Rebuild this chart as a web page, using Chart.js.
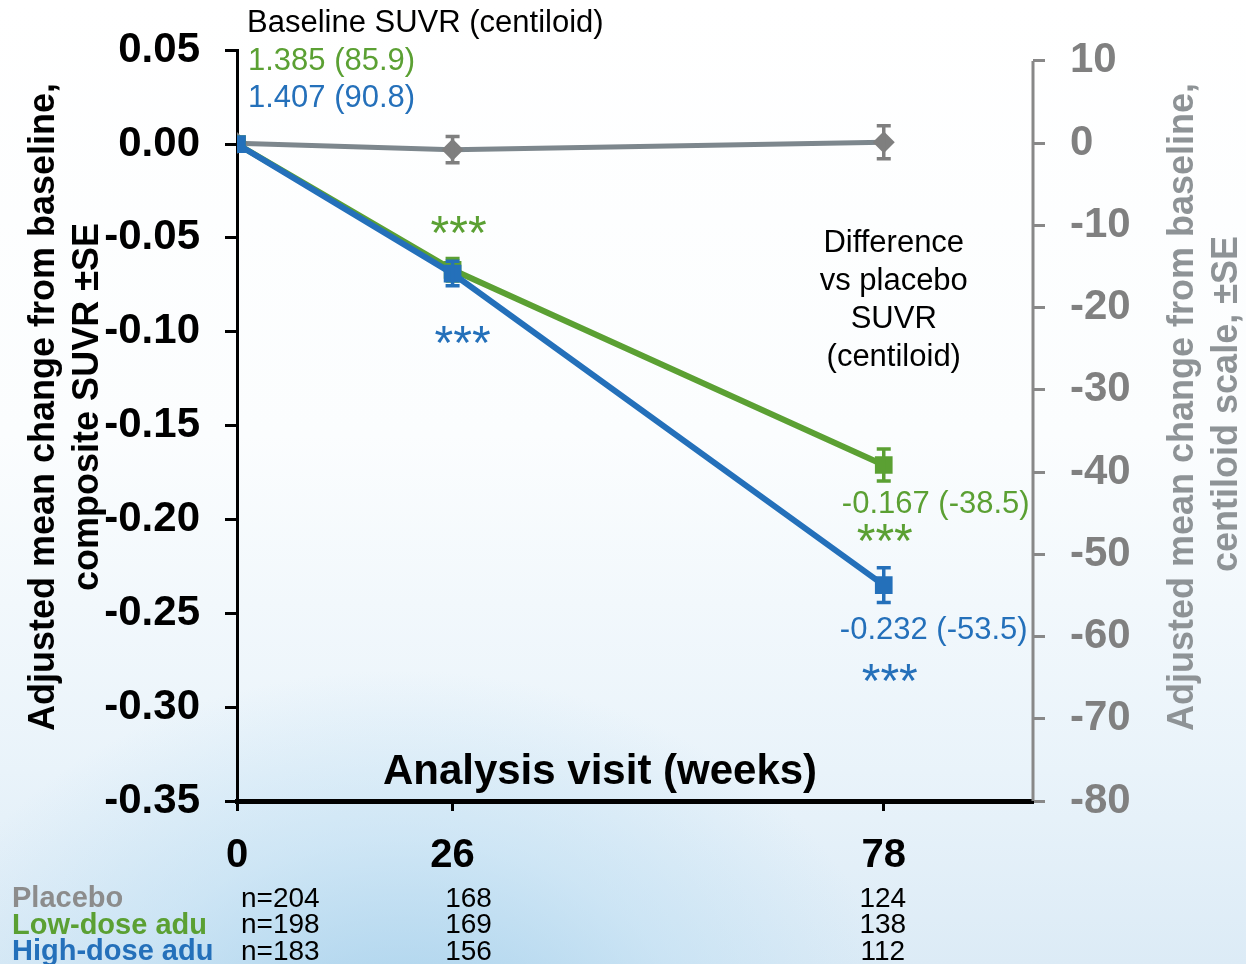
<!DOCTYPE html>
<html>
<head>
<meta charset="utf-8">
<script src="https://cdn.jsdelivr.net/npm/chart.js@4.4.1/dist/chart.umd.min.js"></script>
<style>
html, body { margin: 0; padding: 0; }
body {
    width: 1246px; height: 964px; overflow: hidden;
    background:
        radial-gradient(ellipse 520px 420px at 400px 1090px, rgba(150,200,232,0.85), rgba(185,220,242,0.5) 60%, rgba(255,255,255,0) 100%),
        linear-gradient(to bottom, #ffffff 0%, #fbfdfe 45%, #e9f3fa 80%, #dcebf6 100%);
}
</style>
</head>
<body>
<canvas id="chart" width="1246" height="964"></canvas>
<script>
// data
var weeks = [0, 26, 78];
var xTicks = [0, 26, 78];
var leftTicks = [0.05, 0, -0.05, -0.10, -0.15, -0.20, -0.25, -0.30, -0.35];
var rightTicks = [10, 0, -10, -20, -30, -40, -50, -60, -70, -80];

var placeboCL = [0, -0.8, 0.1];      // centiloid, right axis
var placeboSE = [0, 1.6, 2.0];
var lowDose = [0, -0.067, -0.171];   // SUVR, left axis
var lowDoseSE = [0, 0.006, 0.0085];
var highDose = [0, -0.069, -0.235];
var highDoseSE = [0, 0.0065, 0.0093];

var groups = ['Placebo', 'Low-dose adu', 'High-dose adu'];
var nPlacebo = [204, 168, 124];
var nLow = [198, 169, 138];
var nHigh = [183, 156, 112];

var baselineLow = '1.385 (85.9)';
var baselineHigh = '1.407 (90.8)';
var diffLow = '-0.167 (-38.5)';
var diffHigh = '-0.232 (-53.5)';

var GREEN = '#5ba033';
var BLUE = '#2470ba';
var GRAY = '#7d878d';
var FONT = '"Liberation Sans", Arial, sans-serif';

function toPoints(vals) {
    return weeks.map(function (w, i) { return { x: w, y: vals[i] }; });
}

// error bars, drawn right after each dataset so layering stays right
var errorBars = {
    id: 'errorBars',
    afterDatasetDraw: function (chart, args) {
        var ds = chart.data.datasets[args.index];
        if (!ds.errors) return;
        var ys = chart.scales[ds.yAxisID];
        var ctx = chart.ctx;
        ctx.save();
        ctx.strokeStyle = ds.errColor;
        ctx.lineWidth = 3.5;
        args.meta.data.forEach(function (pt, i) {
            var se = ds.errors[i];
            if (!se) return;
            var v = ds.data[i].y;
            var top = ys.getPixelForValue(v + se);
            var bot = ys.getPixelForValue(v - se);
            ctx.beginPath();
            ctx.moveTo(pt.x, top); ctx.lineTo(pt.x, bot);
            ctx.moveTo(pt.x - 7, top); ctx.lineTo(pt.x + 7, top);
            ctx.moveTo(pt.x - 7, bot); ctx.lineTo(pt.x + 7, bot);
            ctx.stroke();
        });
        ctx.restore();
    }
};

function text(ctx, s, x, y, font, color, align) {
    ctx.font = font;
    ctx.fillStyle = color;
    ctx.textAlign = align || 'left';
    ctx.textBaseline = 'middle';
    ctx.fillText(s, x, y);
}

function vtext(ctx, s, cx, cy, font, color) {
    ctx.save();
    ctx.translate(cx, cy);
    ctx.rotate(-Math.PI / 2);
    text(ctx, s, 0, 0, font, color, 'center');
    ctx.restore();
}

var labels = {
    id: 'labels',
    afterDraw: function (chart) {
        var ctx = chart.ctx;
        var a = chart.chartArea;
        var x = chart.scales.x, y = chart.scales.y, y2 = chart.scales.y2;
        ctx.save();

        // right axis line only spans the tick range
        ctx.strokeStyle = '#888';
        ctx.lineWidth = 3;
        ctx.beginPath();
        ctx.moveTo(a.right, y2.getPixelForValue(10));
        ctx.lineTo(a.right, y2.getPixelForValue(-80));
        ctx.stroke();

        var reg = '31px ' + FONT;
        text(ctx, 'Baseline SUVR (centiloid)', a.left + 10, 23, reg, '#000');
        text(ctx, baselineLow, a.left + 11, 61, reg, GREEN);
        text(ctx, baselineHigh, a.left + 11, 98, reg, BLUE);

        var dx = x.getPixelForValue(78) + 10;
        ['Difference', 'vs placebo', 'SUVR', '(centiloid)'].forEach(function (s, i) {
            text(ctx, s, dx, 243 + i * 38.3, reg, '#000', 'center');
        });

        text(ctx, diffLow, x.getPixelForValue(78) + 52, y.getPixelForValue(lowDose[2]) + 39, reg, GREEN, 'center');
        text(ctx, diffHigh, x.getPixelForValue(78) + 50, y.getPixelForValue(highDose[2]) + 45, reg, BLUE, 'center');

        // significance stars
        var star = '48px ' + FONT;
        function stars(cx, cy, color) {
            ctx.font = star;
            ctx.fillStyle = color;
            ctx.textAlign = 'center';
            ctx.textBaseline = 'alphabetic';
            ctx.fillText('***', cx, cy + 27);
        }
        stars(x.getPixelForValue(26) + 6, 222, GREEN);
        stars(x.getPixelForValue(26) + 10, 332, BLUE);
        stars(x.getPixelForValue(78) + 1, 530, GREEN);
        stars(x.getPixelForValue(78) + 6, 670, BLUE);

        text(ctx, 'Analysis visit (weeks)', 600, 772, 'bold 42px ' + FONT, '#000', 'center');

        // axis titles
        var tf = 'bold 36px ' + FONT;
        vtext(ctx, 'Adjusted mean change from baseline,', 44, 407, tf, '#000');
        vtext(ctx, 'composite SUVR \u00b1SE', 88, 407, tf, '#000');
        vtext(ctx, 'Adjusted mean change from baseline,', 1183, 407, tf, '#8e9396');
        vtext(ctx, 'centiloid scale, \u00b1SE', 1227, 404, tf, '#8e9396');

        // n at risk table
        var rows = [nPlacebo, nLow, nHigh];
        var colors = ['#8c8c8c', GREEN, BLUE];
        rows.forEach(function (r, i) {
            var ry = 899 + i * 26.5;
            text(ctx, groups[i], 12, ry, 'bold 29px ' + FONT, colors[i]);
            text(ctx, 'n=' + r[0], x.getPixelForValue(0) + 4, ry, '28px ' + FONT, '#000');
            text(ctx, String(r[1]), x.getPixelForValue(26) + 16, ry, '28px ' + FONT, '#000', 'center');
            text(ctx, String(r[2]), x.getPixelForValue(78) - 1, ry, '28px ' + FONT, '#000', 'center');
        });
        ctx.restore();
    }
};

var config = {
    type: 'line',
    data: {
        datasets: [
            {
                label: 'High-dose adu',
                data: toPoints(highDose),
                errors: highDoseSE,
                errColor: BLUE,
                yAxisID: 'y',
                borderColor: BLUE,
                backgroundColor: BLUE,
                borderWidth: 6,
                pointStyle: 'rect',
                pointRadius: 12.5,
                pointBorderWidth: 0,
                order: 1
            },
            {
                label: 'Low-dose adu',
                data: toPoints(lowDose),
                errors: lowDoseSE,
                errColor: GREEN,
                yAxisID: 'y',
                borderColor: GREEN,
                backgroundColor: GREEN,
                borderWidth: 6,
                pointStyle: 'rect',
                pointRadius: 12.5,
                pointBorderWidth: 0,
                order: 2
            },
            {
                label: 'Placebo',
                data: toPoints(placeboCL),
                errors: placeboSE,
                errColor: '#7f7f7f',
                yAxisID: 'y2',
                borderColor: GRAY,
                backgroundColor: '#7f7f7f',
                borderWidth: 5,
                pointStyle: 'rectRot',
                pointRadius: 11,
                pointBorderWidth: 0,
                order: 3
            }
        ]
    },
    options: {
        responsive: false,
        animation: false,
        layout: { padding: { top: 47 } },
        elements: { line: { tension: 0 } },
        plugins: { legend: { display: false }, tooltip: { enabled: false } },
        scales: {
            x: {
                type: 'linear',
                min: 0,
                max: 96,
                afterBuildTicks: function (s) { s.ticks = xTicks.map(function (v) { return { value: v }; }); },
                afterFit: function (s) { s.height = 163; },
                ticks: { color: '#000', font: { family: FONT, size: 40, weight: 'bold' }, padding: 21 },
                grid: { drawOnChartArea: false, drawTicks: true, tickLength: 10, tickWidth: 3, tickColor: '#000' },
                border: { display: true, color: '#000', width: 5 }
            },
            y: {
                position: 'left',
                min: -0.35,
                max: 0.05,
                afterBuildTicks: function (s) { s.ticks = leftTicks.map(function (v) { return { value: v }; }); },
                afterFit: function (s) { s.width = 237; },
                ticks: {
                    color: '#000', font: { family: FONT, size: 42, weight: 'bold' }, padding: 25,
                    callback: function (v) { return v.toFixed(2); }
                },
                grid: { drawOnChartArea: false, tickLength: 12, tickWidth: 3, tickColor: '#000' },
                border: { display: true, color: '#000', width: 3 }
            },
            y2: {
                position: 'right',
                min: -80,
                max: 11.3,
                afterBuildTicks: function (s) { s.ticks = rightTicks.map(function (v) { return { value: v }; }); },
                afterFit: function (s) { s.width = 213; },
                ticks: { color: '#808080', font: { family: FONT, size: 42, weight: 'bold' }, padding: 25 },
                grid: { drawOnChartArea: false, tickLength: 12, tickWidth: 3, tickColor: '#888' },
                border: { display: false }
            }
        }
    },
    plugins: [errorBars, labels]
};

var ctx = document.getElementById('chart').getContext('2d');
var chart = new Chart(ctx, config);
</script>
</body>
</html>
